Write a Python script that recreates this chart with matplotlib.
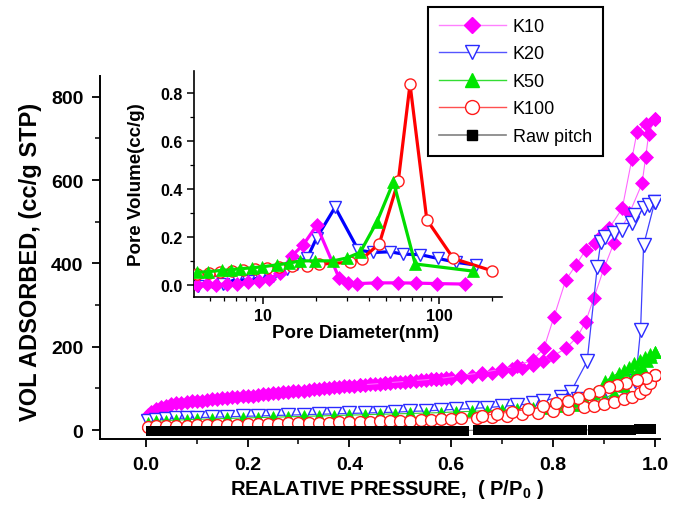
import matplotlib
matplotlib.use("Agg")
import matplotlib.pyplot as plt
from matplotlib.lines import Line2D
from matplotlib.ticker import FixedLocator, FixedFormatter, LogLocator, NullFormatter, FormatStrFormatter

plt.rcParams['font.family'] = ['Liberation Sans', 'DejaVu Sans']
plt.rcParams['mathtext.fontset'] = 'custom'
plt.rcParams['mathtext.rm'] = 'Liberation Sans'
plt.rcParams['mathtext.default'] = 'regular'

# ---------------- main isotherm data (P/P0, cc/g STP) ----------------
k10_ads_p = [0.005, 0.01, 0.02, 0.03, 0.04, 0.05, 0.06, 0.07, 0.08, 0.09, 0.10, 0.11, 0.12, 0.13, 0.14,
             0.15, 0.16, 0.17, 0.18, 0.19, 0.20, 0.21, 0.22, 0.23, 0.24, 0.25, 0.26, 0.27, 0.28, 0.29,
             0.30, 0.31, 0.32, 0.33, 0.34, 0.35, 0.36, 0.37, 0.38, 0.39, 0.40, 0.41, 0.42, 0.43, 0.44,
             0.45, 0.46, 0.47, 0.48, 0.49, 0.50, 0.51, 0.52, 0.53, 0.54, 0.55, 0.56, 0.57, 0.58, 0.59,
             0.60, 0.62, 0.64, 0.66, 0.68, 0.70, 0.72, 0.74, 0.76, 0.78, 0.80, 0.825, 0.848, 0.864,
             0.88, 0.90, 0.92, 0.95, 0.975, 0.982, 0.988, 1.0]
k10_ads_v = [36, 43, 50, 55, 59, 62, 64, 66, 67.5, 69, 70, 71, 72, 73.5, 75,
             76, 77, 78.5, 80, 81, 82, 83, 84.5, 86, 87, 88, 89, 90.5, 92, 93,
             94, 95, 96.5, 98, 99, 100, 101, 102.5, 104, 105, 106, 107, 108, 109, 110,
             111, 111.5, 112.5, 113.5, 114.5, 115.5, 116.5, 117.5, 118.5, 119.5, 120.5, 121.5, 122.5, 123.5, 124.5,
             125.5, 128, 131, 134, 138, 142, 146, 150, 157, 166, 178, 196, 224, 260,
             316, 388, 450, 520, 592, 655, 711, 747]
k10_des_p = [1.0, 0.982, 0.965, 0.955, 0.936, 0.91, 0.897, 0.882, 0.864, 0.845, 0.825, 0.802, 0.782,
             0.76, 0.73, 0.70, 0.66, 0.62, 0.57, 0.52, 0.47, 0.42]
k10_des_v = [747, 735, 715, 651, 532, 484, 468, 450, 432, 396, 360, 272, 196,
             168, 155, 147, 138, 131, 123, 118, 113, 108]

k20_a_p = [0.005, 0.02, 0.04, 0.06, 0.08, 0.10, 0.13, 0.16, 0.19, 0.22, 0.25, 0.28, 0.31, 0.34, 0.37,
           0.40, 0.43, 0.46, 0.49, 0.52, 0.55, 0.58, 0.61, 0.64, 0.67, 0.70, 0.73, 0.76, 0.78, 0.815,
           0.835, 0.867, 0.887, 0.894, 0.903, 0.92, 0.936, 0.955, 0.962, 0.978, 0.988, 1.0]
k20_a_v = [22, 25, 27, 28, 29, 30, 31, 32, 33, 34, 35, 36, 37, 38, 39,
           40, 41, 42, 43, 45, 46, 48, 50, 52, 54, 57, 60, 64, 70, 80,
           92, 165, 392, 452, 464, 472, 480, 496, 516, 532, 540, 548]
k20_b_p = [1.0, 0.978, 0.972, 0.962, 0.94, 0.91, 0.88, 0.85, 0.82]
k20_b_v = [548, 444, 240, 117, 97, 87, 80, 75, 71]

k50_a_p = [0.005, 0.02, 0.04, 0.06, 0.08, 0.10, 0.13, 0.16, 0.19, 0.22, 0.25, 0.28, 0.31, 0.34, 0.37,
           0.40, 0.43, 0.46, 0.49, 0.52, 0.55, 0.58, 0.61, 0.64, 0.67, 0.70, 0.73, 0.76, 0.79, 0.82,
           0.85, 0.88, 0.90, 0.92, 0.94, 0.955, 0.965, 0.975, 0.985, 0.993, 1.0]
k50_a_v = [18, 21, 23, 24, 25, 26, 27, 28, 29, 30, 31, 32, 33, 34, 35,
           36, 37, 38, 39, 40, 41, 42, 44, 45, 47, 48, 50, 52, 54, 57,
           60, 66, 75, 88, 105, 125, 140, 152, 165, 176, 188]
k50_b_p = [1.0, 0.99, 0.98, 0.97, 0.96, 0.95, 0.94, 0.93, 0.915, 0.903, 0.88, 0.86, 0.84, 0.82]
k50_b_v = [188, 182, 175, 168, 160, 152, 145, 138, 128, 117, 90, 75, 66, 60]

k100_a_p = [0.005, 0.02, 0.04, 0.06, 0.08, 0.10, 0.12, 0.14, 0.16, 0.18, 0.20, 0.22, 0.24, 0.26, 0.28,
            0.30, 0.32, 0.34, 0.36, 0.38, 0.40, 0.42, 0.44, 0.46, 0.48, 0.50, 0.52, 0.54, 0.56, 0.58,
            0.60, 0.62, 0.65, 0.68, 0.71, 0.74, 0.77, 0.80, 0.83, 0.86, 0.88, 0.90, 0.92, 0.94, 0.955,
            0.97, 0.98, 0.99, 1.0]
k100_a_v = [8, 9, 10, 10.5, 11, 11.5, 12, 12.5, 13, 13.5, 14, 14.5, 15, 15.5, 16,
            16.5, 17, 17.5, 18, 18.5, 19, 19.5, 20, 21, 22, 22.5, 23, 24, 25, 26,
            27, 28, 30, 32, 35, 38, 42, 46, 50, 55, 59, 63, 68, 74, 80,
            88, 98, 112, 132]
k100_b_p = [1.0, 0.982, 0.965, 0.943, 0.925, 0.91, 0.89, 0.871, 0.85, 0.83, 0.805, 0.78, 0.75, 0.72, 0.69, 0.66]
k100_b_v = [132, 125, 120, 113, 108, 103, 95, 86, 78, 71, 64, 57, 50, 44, 39, 35]

raw_p = [0.010, 0.025, 0.040, 0.055, 0.070, 0.085, 0.100, 0.115, 0.130, 0.145, 0.160, 0.175, 0.190, 0.205,
         0.220, 0.235, 0.250, 0.265, 0.280, 0.295, 0.310, 0.325, 0.340, 0.355, 0.370, 0.385, 0.400, 0.415,
         0.430, 0.445, 0.460, 0.475, 0.490, 0.505, 0.520, 0.535, 0.550, 0.565, 0.580, 0.595, 0.610, 0.625,
         0.652, 0.669, 0.686, 0.703, 0.720, 0.737, 0.754, 0.771, 0.788, 0.805, 0.822, 0.839, 0.856,
         0.878, 0.893, 0.908, 0.923, 0.938, 0.953, 0.968, 0.982, 0.993]
raw_v = [-1, -1, -1, -1, -1, -1, -1, -1, -1, -1, -1, -1, -1, -1,
         -1, -1, -1, -1, -1, -1, -1, -1, -1, -1, -1, -1, -1, -1,
         -1, -1, -1, -1, -1, -1, -1, -1, -1, -1, -1, -1, -1, -1,
         0, 0, 0, 0, 0, 0, 0, 0, 0, 0, 0, 0, 0,
         1, 1, 1, 1, 1, 1, 2, 2, 2]

# ---------------- inset pore size distribution ----------------
k10_d = [4.2, 4.8, 5.4, 6.2, 7.1, 8.2, 9.4, 10.8, 12.4, 14.5, 16.9, 20.1, 26.9, 30.2, 34.0, 44.2, 58.7, 74.1, 97.0, 140.7]
k10_pv = [0.0, 0.005, 0.0, 0.003, 0.005, 0.01, 0.015, 0.025, 0.05, 0.12, 0.168, 0.248, 0.03, 0.007, 0.005, 0.008, 0.008, 0.007, 0.005, 0.003]
k20_d = [4.27, 5.09, 5.92, 7.05, 8.2, 9.58, 11.4, 13.6, 15.5, 17.7, 20.1, 25.6, 34.7, 42.3, 52.6, 62.6, 78.1, 98.7, 125, 163]
k20_pv = [-0.004, 0.01, 0.003, 0.024, 0.017, 0.031, 0.038, 0.066, 0.087, 0.11, 0.196, 0.324, 0.145, 0.135, 0.138, 0.128, 0.126, 0.11, 0.094, 0.082]
k50_d = [4.18, 4.86, 5.80, 6.5, 7.37, 8.59, 9.79, 11.9, 13.9, 16.2, 19.7, 25.0, 29.8, 35.5, 44.2, 55.0, 73.1, 156.5]
k50_pv = [0.052, 0.055, 0.06, 0.063, 0.067, 0.071, 0.075, 0.083, 0.09, 0.1, 0.1, 0.1, 0.112, 0.135, 0.262, 0.43, 0.087, 0.057]
k100_d = [4.2, 4.9, 5.7, 6.6, 7.7, 9.0, 10.5, 12.2, 14.5, 17.6, 20.6, 31.1, 36.3, 45.7, 58.6, 68.3, 85.1, 120.5, 199]
k100_pv = [0.045, 0.05, 0.055, 0.058, 0.062, 0.066, 0.07, 0.074, 0.078, 0.078, 0.086, 0.094, 0.107, 0.172, 0.435, 0.838, 0.272, 0.11, 0.059]

labels = ['K10', 'K20', 'K50', 'K100', 'Raw pitch']

MAG = '#ff00ff'
BLUE = '#2a2aff'
GREEN = '#00e600'
RED = '#ff1a1a'

fig = plt.figure(figsize=(6.82, 5.10), dpi=100)
ax = fig.add_axes([0.1466, 0.137, 0.821, 0.713])

# K10
for p, v in ((k10_ads_p, k10_ads_v), (k10_des_p, k10_des_v)):
    ax.plot(p, v, '-', color='#ff66ff', lw=0.8, marker='D', ms=7.3, mfc=MAG, mec=MAG, mew=0.5, zorder=2)
# K20
for p, v in ((k20_a_p, k20_a_v), (k20_b_p, k20_b_v)):
    ax.plot(p, v, '-', color='#4040ff', lw=0.9, marker='v', ms=9.5, mfc='white', mec=BLUE, mew=1.0, zorder=3)
# K50
for p, v in ((k50_a_p, k50_a_v), (k50_b_p, k50_b_v)):
    ax.plot(p, v, '-', color='#33cc33', lw=0.8, marker='^', ms=9, mfc=GREEN, mec=GREEN, mew=0.5, zorder=4)
# K100
for p, v in ((k100_a_p, k100_a_v), (k100_b_p, k100_b_v)):
    ax.plot(p, v, '-', color='#ff4040', lw=0.8, marker='o', ms=8.5, mfc='white', mec=RED, mew=1.0, zorder=5)
# Raw pitch
ax.plot(raw_p, raw_v, '-', color='#808080', lw=0.8, marker='s', ms=7.0, mfc='black', mec='black', mew=0, zorder=6)

ax.set_xlim(-0.09, 1.01)
ax.set_ylim(-21.6, 851)
ax.spines['top'].set_visible(False)
ax.spines['right'].set_visible(False)
for s in ('left', 'bottom'):
    ax.spines[s].set_linewidth(1.4)
ax.xaxis.set_major_locator(FixedLocator([0.0, 0.2, 0.4, 0.6, 0.8, 1.0]))
ax.xaxis.set_major_formatter(FormatStrFormatter('%.1f'))
ax.xaxis.set_minor_locator(FixedLocator([0.1, 0.3, 0.5, 0.7, 0.9]))
ax.yaxis.set_major_locator(FixedLocator([0, 200, 400, 600, 800]))
ax.yaxis.set_minor_locator(FixedLocator([100, 300, 500, 700]))
ax.tick_params(which='major', direction='out', length=6, width=1.3, labelsize=14, pad=6)
ax.tick_params(which='minor', direction='out', length=3.5, width=1.1)
for lab in ax.get_xticklabels() + ax.get_yticklabels():
    lab.set_fontweight('bold')

ax.set_xlabel('REALATIVE PRESSURE,  ( P/P$_0$ )', fontsize=14.5, fontweight='bold')
ax.xaxis.set_label_coords(0.5125, -0.105)
ax.set_ylabel('VOL ADSORBED, (cc/g STP)', fontsize=17, fontweight='bold')
ax.yaxis.set_label_coords(-0.103, 0.49)

# ---------------- inset ----------------
ins = fig.add_axes([0.2845, 0.4157, 0.4516, 0.443])
ins.set_facecolor('none')
ins.plot(k20_d, k20_pv, '-', color='#0000ff', lw=2.3, marker='v', ms=9, mfc='white', mec='#2a2aff', mew=1.0, zorder=2)
ins.plot(k10_d, k10_pv, '-', color=MAG, lw=2.3, marker='D', ms=7, mfc=MAG, mec=MAG, mew=0.5, zorder=3)
ins.plot(k100_d, k100_pv, '-', color='#ff0000', lw=2.3, marker='o', ms=8, mfc='white', mec=RED, mew=1.0, zorder=4)
ins.plot(k50_d, k50_pv, '-', color='#00dd00', lw=2.3, marker='^', ms=9, mfc=GREEN, mec=GREEN, mew=0.5, zorder=5)
ins.set_xscale('log')
ins.set_xlim(4.03, 228)
ins.set_ylim(-0.051, 0.893)
ins.spines['top'].set_visible(False)
ins.spines['right'].set_visible(False)
for s in ('left', 'bottom'):
    ins.spines[s].set_linewidth(1.2)
ins.xaxis.set_major_locator(FixedLocator([10, 100]))
ins.xaxis.set_major_formatter(FixedFormatter(['10', '100']))
ins.xaxis.set_minor_locator(LogLocator(base=10, subs=[2, 3, 4, 5, 6, 7, 8, 9]))
ins.xaxis.set_minor_formatter(NullFormatter())
ins.yaxis.set_major_locator(FixedLocator([0.0, 0.2, 0.4, 0.6, 0.8]))
ins.yaxis.set_major_formatter(FormatStrFormatter('%.1f'))
ins.yaxis.set_minor_locator(FixedLocator([0.1, 0.3, 0.5, 0.7]))
ins.tick_params(which='major', direction='out', length=5, width=1.1, labelsize=11.5, pad=3)
ins.tick_params(which='minor', direction='out', length=3, width=0.9)
for lab in ins.get_xticklabels() + ins.get_yticklabels():
    lab.set_fontweight('bold')
ins.set_xlabel('Pore Diameter(nm)', fontsize=13.5, fontweight='bold')
ins.xaxis.set_label_coords(0.526, -0.118)
ins.set_ylabel('Pore Volume(cc/g)', fontsize=13.5, fontweight='bold')
ins.yaxis.set_label_coords(-0.16, 0.5)

# ---------------- legend ----------------
handles = [
    Line2D([], [], color='#ff80ff', lw=1.0, marker='D', ms=8.5, mfc=MAG, mec=MAG),
    Line2D([], [], color='#5555ff', lw=1.0, marker='v', ms=10.5, mfc='white', mec='#2a2aff', mew=1.0),
    Line2D([], [], color='#33dd33', lw=1.0, marker='^', ms=10.5, mfc=GREEN, mec=GREEN),
    Line2D([], [], color='#ff5050', lw=1.0, marker='o', ms=10, mfc='white', mec=RED, mew=1.0),
    Line2D([], [], color='#808080', lw=1.2, marker='s', ms=7.5, mfc='black', mec='black'),
]
leg = fig.legend(handles, labels, loc='upper left', bbox_to_anchor=(0.6276, 0.984),
                 bbox_transform=fig.transFigure, fontsize=13, frameon=True, fancybox=False,
                 edgecolor='black', framealpha=1, handlelength=3.7, handletextpad=0.4,
                 labelspacing=0.58, borderpad=0.6, borderaxespad=0, numpoints=1)
leg.get_frame().set_linewidth(1.5)
leg.set_zorder(10)

fig.savefig('out.png', dpi=100)
